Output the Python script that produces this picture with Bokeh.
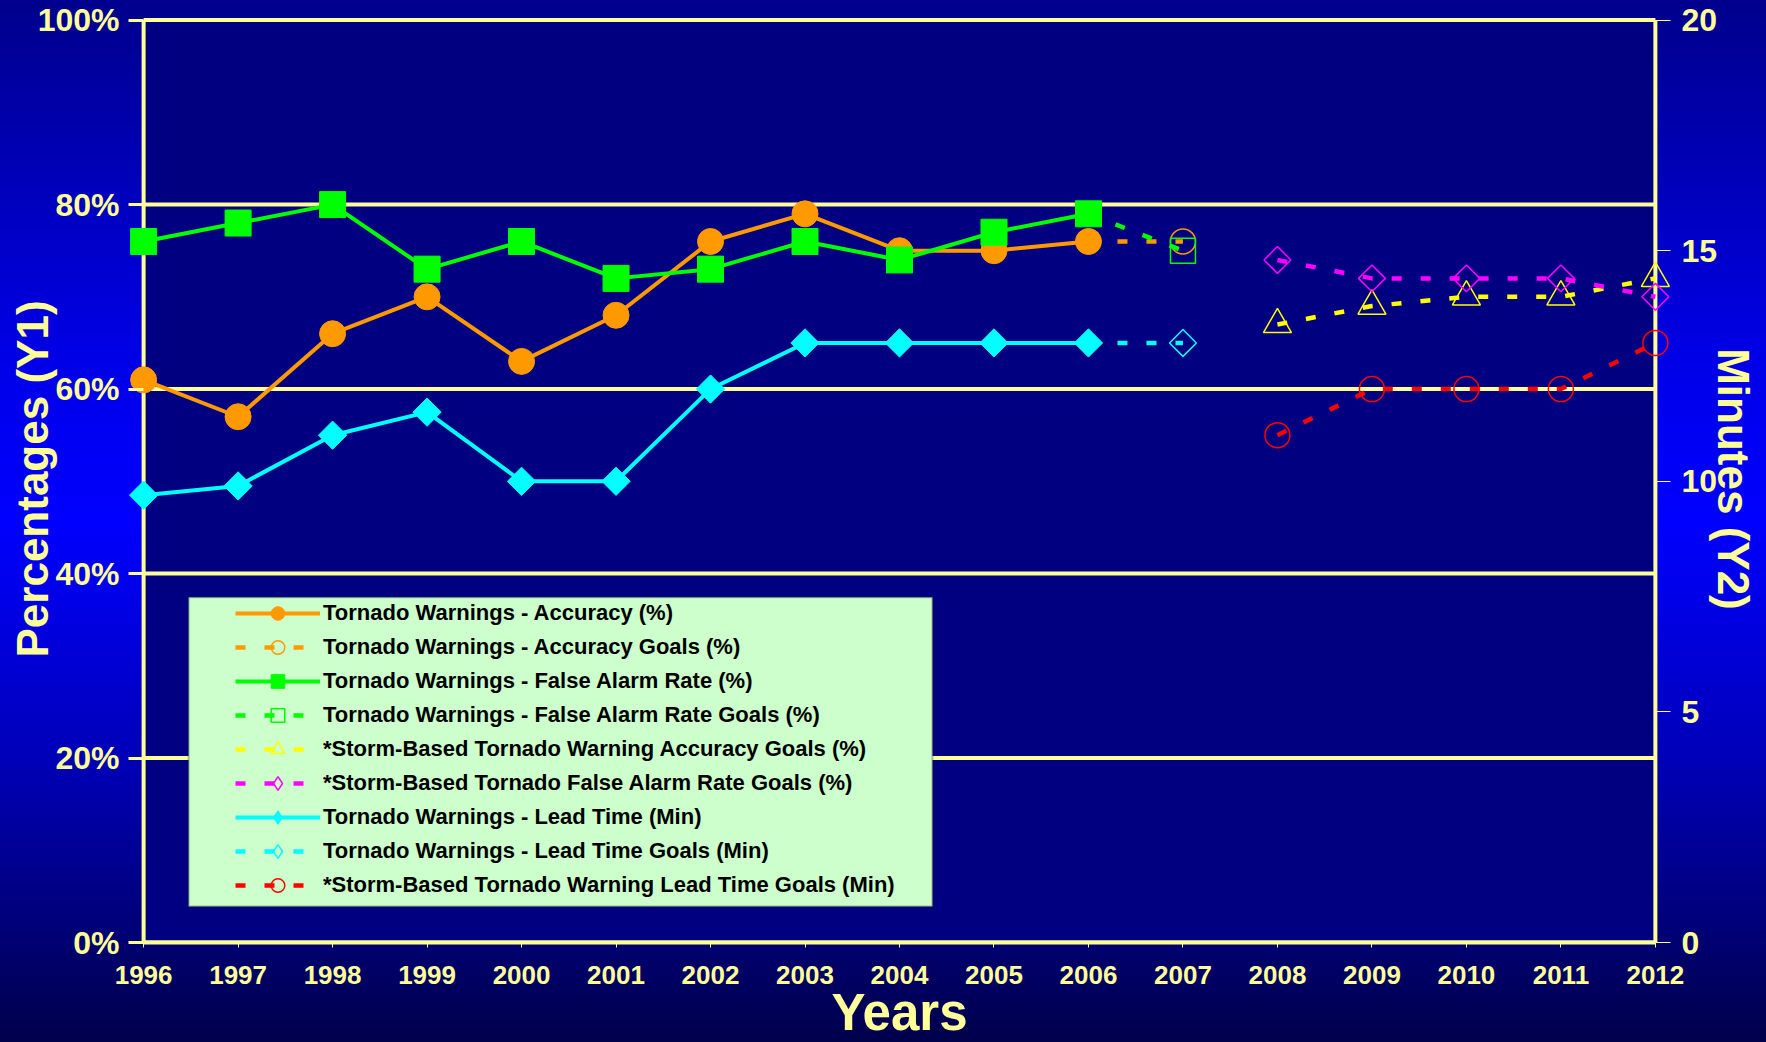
import numpy as np
from bokeh.plotting import figure
from bokeh.models import (Range1d, LinearAxis, FixedTicker, PrintfTickFormatter, Legend,
                          LegendItem, BoxAnnotation, GlobalInlineStyleSheet)
from bokeh.embed import file_html
from bokeh.resources import INLINE

# ---------------- data ----------------
years_actual = [1996, 1997, 1998, 1999, 2000, 2001, 2002, 2003, 2004, 2005, 2006]
accuracy = [61, 57, 66, 70, 63, 68, 76, 79, 75, 75, 76]
false_alarm = [76, 78, 80, 73, 76, 72, 73, 76, 74, 77, 79]
lead_time = [9.7, 9.9, 11.0, 11.5, 10.0, 10.0, 12.0, 13.0, 13.0, 13.0, 13.0]

goal_years = [2006, 2007]
accuracy_goal = [76, 76]
false_alarm_goal = [79, 75]
lead_time_goal = [13, 13]

sb_years = [2008, 2009, 2010, 2011, 2012]
sb_accuracy_goal = [67, 69, 70, 70, 72]
sb_false_alarm_goal = [74, 72, 72, 72, 70]
sb_lead_time_goal = [11, 12, 12, 12, 13]

year_ticks = [1996, 1997, 1998, 1999, 2000, 2001, 2002, 2003, 2004, 2005, 2006,
              2007, 2008, 2009, 2010, 2011, 2012]
pct_ticks = [0, 20, 40, 60, 80, 100]
min_ticks = [0, 5, 10, 15, 20]

# ---------------- style ----------------
FONT = "Liberation Sans"
PALE = "#FFFF99"
NAVY = "#000080"
ORANGE = "#FF9900"
GREEN = "#00FF00"
CYAN = "#00FFFF"
YELLOW = "#FFFF00"
MAGENTA = "#FF00FF"
RED = "#FF0000"
DASH = "10 19"
XPAD = 0.16    # years of room so edge markers are not clipped
YPAD = 0.5     # percent of room above the 100% line

x0, x1 = year_ticks[0], year_ticks[-1]
y0, y1 = pct_ticks[0], pct_ticks[-1]
m0, m1 = min_ticks[0], min_ticks[-1]

p = figure(frame_width=1542, frame_height=927,
           x_range=Range1d(x0 - XPAD, x1 + XPAD), y_range=Range1d(y0, y1 + YPAD),
           output_backend="svg", toolbar_location=None,
           min_border_left=128, min_border_right=0, min_border_top=15, min_border_bottom=0,
           background_fill_color=None, border_fill_color=None, outline_line_color=None)
p.extra_y_ranges = {"min": Range1d(m0, m1 + YPAD * (m1 - m0) / (y1 - y0))}
p.stylesheets = [GlobalInlineStyleSheet(css=(
    "html{min-height:100%;background:linear-gradient(to bottom,#00008c 0%,#0000e8 35%,"
    "#0000ff 50%,#0000b0 75%,#00004a 100%);}body{background:transparent;}"))]

# plot area background
p.add_layout(BoxAnnotation(left=x0, right=x1, bottom=y0, top=y1, fill_color=NAVY,
                           fill_alpha=1.0, line_color=None, level="image"))
p.xgrid.visible = False
p.ygrid.visible = False

# grid lines and the two vertical axis lines
n = len(pct_ticks)
p.segment(x0=[x0] * n, y0=pct_ticks, x1=[x1] * n, y1=pct_ticks, line_color=PALE, line_width=4)
p.segment(x0=[x0, x1], y0=[y0, y0], x1=[x0, x1], y1=[y1, y1], line_color=PALE, line_width=4)

# bottom axis
xa = p.xaxis[0]
xa.ticker = FixedTicker(ticks=year_ticks)
xa.bounds = (x0, x1)
xa.major_label_text_font = FONT
xa.major_label_text_font_size = "26px"
xa.major_label_text_font_style = "bold"
xa.major_label_text_color = PALE
xa.axis_line_color = PALE
xa.axis_line_width = 4
xa.major_tick_line_color = PALE
xa.major_tick_line_width = 1
xa.major_tick_in = 0
xa.major_tick_out = 5
xa.minor_tick_line_color = None
xa.major_label_standoff = 18
xa.axis_label = "Years"
xa.axis_label_text_font = FONT
xa.axis_label_text_font_size = "51px"
xa.axis_label_text_font_style = "bold"
xa.axis_label_text_color = PALE
xa.axis_label_standoff = -3

# left axis
ya = p.yaxis[0]
ya.ticker = FixedTicker(ticks=pct_ticks)
ya.bounds = (y0, y1)
ya.formatter = PrintfTickFormatter(format="%d%%")
ya.major_label_text_font = FONT
ya.major_label_text_font_size = "32px"
ya.major_label_text_font_style = "bold"
ya.major_label_text_color = PALE
ya.axis_line_color = None
ya.major_tick_line_color = PALE
ya.major_tick_line_width = 3
ya.major_tick_in = 15
ya.major_tick_out = 0
ya.minor_tick_line_color = None
ya.major_label_standoff = 9
ya.axis_label = "Percentages (Y1)"
ya.axis_label_text_font = FONT
ya.axis_label_text_font_size = "44px"
ya.axis_label_text_font_style = "bold"
ya.axis_label_text_color = PALE
ya.axis_label_standoff = -22

# right axis
ra = LinearAxis(y_range_name="min", ticker=FixedTicker(ticks=min_ticks), bounds=(m0, m1))
ra.major_label_text_font = FONT
ra.major_label_text_font_size = "32px"
ra.major_label_text_font_style = "bold"
ra.major_label_text_color = PALE
ra.axis_line_color = None
ra.major_tick_line_color = PALE
ra.major_tick_line_width = 1
ra.major_tick_in = 15
ra.major_tick_out = 0
ra.minor_tick_line_color = None
ra.major_label_standoff = 11
ra.axis_label = "Minutes (Y2)"
ra.axis_label_text_font = FONT
ra.axis_label_text_font_size = "44px"
ra.axis_label_text_font_style = "bold"
ra.axis_label_text_color = PALE
ra.axis_label_standoff = -11
p.add_layout(ra, "right")

ANG = np.pi / 4


def series(xs, ys, color, marker, size, rng="default", angle=0.0):
    ln = p.line(xs, ys, line_color=color, line_width=4, y_range_name=rng)
    sc = p.scatter(xs, ys, marker=marker, size=size, angle=angle, fill_color=color,
                   line_color=color, y_range_name=rng)
    return [ln, sc]


def goal(xs, ys, color, marker, size, rng="default", angle=0.0, skip_first=False):
    ln = p.line(xs, ys, line_color=color, line_width=4.5, line_dash=DASH, y_range_name=rng)
    mx = xs[1:] if skip_first else xs
    my = ys[1:] if skip_first else ys
    sc = p.scatter(mx, my, marker=marker, size=size, angle=angle, fill_color=None,
                   line_color=color, line_width=1.5, y_range_name=rng)
    return [ln, sc]


def legend_proxy(xs, ys, color, dashed, filled, rng="default"):
    # hidden twins of a diamond series, used only for its legend swatch
    ln = p.line(xs, ys, line_color=color, line_width=4.5 if dashed else 4,
                line_dash=DASH if dashed else "solid", y_range_name=rng, visible=False)
    sc = p.scatter(xs, ys, marker="diamond", size=20,
                   fill_color=color if filled else None, line_color=color,
                   line_width=1 if filled else 1.5, y_range_name=rng, visible=False)
    return [ln, sc]


acc_goal_r = goal(goal_years, accuracy_goal, ORANGE, "circle", 25, skip_first=True)
acc_r = series(years_actual, accuracy, ORANGE, "circle", 26)
far_goal_r = goal(goal_years, false_alarm_goal, GREEN, "square", 25, skip_first=True)
far_r = series(years_actual, false_alarm, GREEN, "square", 26)
sb_acc_r = goal(sb_years, sb_accuracy_goal, YELLOW, "triangle", 28)
sb_far_r = goal(sb_years, sb_false_alarm_goal, MAGENTA, "square", 19, angle=ANG)
lt_goal_r = goal(goal_years, lead_time_goal, CYAN, "square", 19, rng="min", angle=ANG, skip_first=True)
lt_r = series(years_actual, lead_time, CYAN, "square", 20, rng="min", angle=ANG)
sb_lt_r = goal(sb_years, sb_lead_time_goal, RED, "circle", 25, rng="min")

sb_far_leg = legend_proxy(sb_years, sb_false_alarm_goal, MAGENTA, True, False)
lt_leg = legend_proxy(years_actual, lead_time, CYAN, False, True, rng="min")
lt_goal_leg = legend_proxy(goal_years, lead_time_goal, CYAN, True, False, rng="min")

# legend background box
p.add_layout(BoxAnnotation(left=1996.476, right=2004.349, bottom=3.9, top=37.42,
                           fill_color="#CCFFCC", fill_alpha=1.0,
                           line_color="#202020", line_width=2))

items = [
    LegendItem(label="Tornado Warnings - Accuracy (%)", renderers=acc_r),
    LegendItem(label="Tornado Warnings - Accuracy Goals (%)", renderers=acc_goal_r),
    LegendItem(label="Tornado Warnings - False Alarm Rate (%)", renderers=far_r),
    LegendItem(label="Tornado Warnings - False Alarm Rate Goals (%)", renderers=far_goal_r),
    LegendItem(label="*Storm-Based Tornado Warning Accuracy Goals (%)", renderers=sb_acc_r),
    LegendItem(label="*Storm-Based Tornado False Alarm Rate Goals (%)", renderers=sb_far_leg),
    LegendItem(label="Tornado Warnings - Lead Time (Min)", renderers=lt_leg),
    LegendItem(label="Tornado Warnings - Lead Time Goals (Min)", renderers=lt_goal_leg),
    LegendItem(label="*Storm-Based Tornado Warning Lead Time Goals (Min)", renderers=sb_lt_r),
]
legend = Legend(items=items, location=(107, 40), orientation="vertical",
                glyph_width=85, glyph_height=34, label_height=34, spacing=0,
                padding=0, margin=0, label_standoff=3,
                label_text_font=FONT, label_text_font_size="22px",
                label_text_font_style="bold", label_text_color="#000000",
                label_text_baseline="middle", inactive_fill_alpha=0,
                background_fill_alpha=0, border_line_alpha=0)
p.add_layout(legend, "center")

open("out.html", "w").write(file_html(p, INLINE))
